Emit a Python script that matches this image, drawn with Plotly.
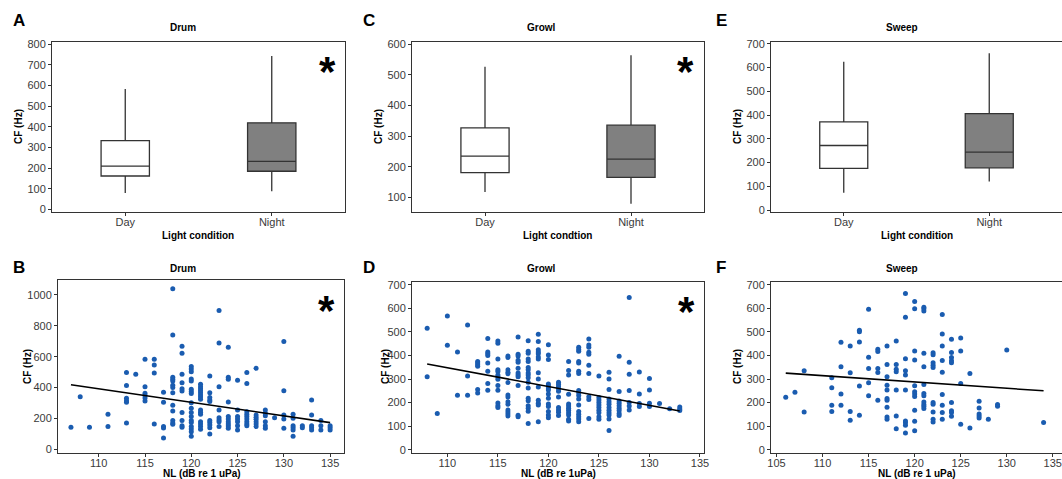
import plotly.graph_objects as go

W, H = 1062, 479

# ---------------- Box plot data (Light condition) ----------------
conditions = ["Day", "Night"]
box_fill = ["#ffffff", "#808080"]
# Drum
drum_q1 = [162, 185]; drum_med = [210, 233]; drum_q3 = [333, 419]
drum_lo = [80, 88]; drum_hi = [583, 742]
# Growl
growl_q1 = [181, 166]; growl_med = [235, 225]; growl_q3 = [327, 336]
growl_lo = [118, 80]; growl_hi = [526, 564]
# Sweep
sweep_q1 = [176, 178]; sweep_med = [272, 244]; sweep_q3 = [372, 406]
sweep_lo = [73, 120]; sweep_hi = [625, 661]

# ---------------- Scatter data (NL vs CF) ----------------
drum_points = {
    107: [143], 108: [341], 109: [143], 111: [227, 147],
    113: [497, 413, 330, 315, 305, 171], 114: [486],
    115: [583, 406, 363, 348, 333, 313], 116: [583, 546, 495, 164],
    117: [369, 305, 147, 138, 73],
    118: [1041, 741, 467, 454, 443, 415, 400, 367, 285, 248, 186, 171, 162],
    119: [667, 622, 486, 432, 393, 378, 238, 186, 153, 143],
    120: [536, 521, 503, 456, 443, 389, 374, 361, 302, 266, 238, 212, 186, 173, 147, 132, 114, 84],
    121: [421, 406, 393, 380, 367, 352, 339, 324, 255, 240, 227, 179, 164, 147, 130],
    122: [475, 367, 335, 320, 309, 186, 173, 158, 140, 99],
    123: [899, 689, 406, 255, 205, 190, 179, 147],
    124: [661, 467, 454, 307, 212, 197, 179, 164, 151, 136],
    125: [447, 255, 212, 197, 179, 153, 125],
    126: [497, 426, 244, 227, 212, 197, 179, 164, 153],
    127: [525, 223, 207, 194, 179, 164, 147],
    128: [255, 233, 218, 179, 153, 136],
    129: [205], 130: [698, 380, 223, 197, 136],
    131: [227, 201, 153, 140, 125, 84], 132: [153, 140],
    133: [320, 223, 153, 140, 125], 134: [186, 153, 125], 135: [153, 140, 125],
}
growl_points = {
    108: [516, 310], 109: [154], 110: [568, 443], 111: [415, 231],
    112: [529, 313, 231], 113: [375, 368, 361, 354, 256, 241],
    114: [472, 415, 407, 400, 368, 333, 281, 252],
    115: [462, 452, 385, 339, 332, 317, 310, 299, 273, 252, 198, 187, 179],
    116: [398, 391, 339, 329, 322, 285, 232, 224, 204, 193, 169, 160, 152, 143],
    117: [478, 405, 398, 380, 371, 346, 326, 317, 310, 273, 146, 140],
    118: [463, 418, 410, 385, 374, 349, 339, 326, 317, 306, 286, 262, 218, 208, 187, 176, 163, 111],
    119: [490, 459, 424, 415, 407, 394, 385, 327, 300, 266, 210, 197, 190, 119],
    120: [446, 402, 383, 279, 271, 262, 254, 237, 218, 194, 183, 162, 147, 136],
    121: [286, 278, 268, 259, 248, 224, 179, 169, 159, 145],
    122: [375, 336, 317, 235, 194, 186, 176, 167, 157, 147, 129, 122],
    123: [435, 425, 418, 375, 368, 333, 323, 251, 242, 230, 215, 190, 162, 150, 140, 130, 119],
    124: [470, 445, 435, 414, 405, 359, 324, 225, 213, 133],
    125: [313, 222, 211, 200, 190, 179, 167, 157, 140, 129],
    126: [329, 300, 256, 215, 204, 193, 179, 167, 157, 147, 130, 81],
    127: [397, 247, 207, 197, 187, 176, 166, 154, 145],
    128: [646, 371, 320, 251, 200, 186, 169],
    129: [330, 237, 196, 183], 130: [302, 254, 197, 183],
    131: [196], 132: [174], 133: [181, 173, 166],
}
sweep_points = {
    106: [223], 107: [244], 108: [335, 160],
    111: [305, 263, 189, 162], 112: [456, 352, 237, 189],
    113: [440, 327, 162, 125], 114: [507, 501, 457, 270, 146],
    115: [596, 392, 345, 284, 229], 116: [426, 417, 345, 328, 210],
    117: [440, 362, 310, 274, 253, 217, 210, 180, 139, 129],
    118: [462, 362, 342, 331, 253, 143, 89],
    119: [663, 562, 386, 335, 317, 253, 122, 114, 104, 71],
    120: [629, 598, 419, 381, 271, 246, 236, 226, 168, 121, 80],
    121: [605, 598, 589, 410, 352, 277, 239, 229, 203, 192, 185, 175],
    122: [412, 403, 369, 359, 349, 200, 193, 160, 129, 118],
    123: [574, 491, 440, 379, 329, 234, 189, 158, 129],
    124: [469, 413, 391, 378, 369, 200, 165, 158, 142],
    125: [474, 419, 281, 108], 126: [324, 92],
    127: [206, 177, 152, 143, 135], 128: [129], 129: [192, 185],
    130: [423], 134: [115],
}
# regression lines (NL endpoints, CF endpoints)
drum_fit_nl = [107, 135]; drum_fit_cf = [418, 173]
growl_fit_nl = [108, 133]; growl_fit_cf = [364, 164]
sweep_fit_nl = [106, 134]; sweep_fit_cf = [325, 250]

# ---------------- layout helpers ----------------
def dom_x(a, b):
    return [a / W, min(b / W, 1.0)]

def dom_y(top, bottom):
    return [1 - bottom / H, 1 - top / H]

FONT = "Liberation Sans, Arial, sans-serif"
AX = "#333333"

fig = go.Figure()

def axis_common():
    return dict(showline=True, mirror=True, linecolor=AX, linewidth=1,
                ticks="outside", ticklen=3, tickcolor=AX, tickwidth=1,
                showgrid=False, zeroline=False, automargin=False,
                tickfont=dict(family=FONT, size=11, color="#3a3a3a"))

panels = [
    ("x", "y", (52, 345), (42, 212)),
    ("x2", "y2", (412, 704), (42, 212)),
    ("x3", "y3", (771, 1064), (42, 212)),
    ("x4", "y4", (58, 344), (280, 453)),
    ("x5", "y5", (412, 704), (282, 453)),
    ("x6", "y6", (771, 1064), (282, 453)),
]

box_sets = [
    (drum_q1, drum_med, drum_q3, drum_lo, drum_hi, [-12, 810], list(range(0, 801, 100))),
    (growl_q1, growl_med, growl_q3, growl_lo, growl_hi, [53, 607], list(range(100, 601, 100))),
    (sweep_q1, sweep_med, sweep_q3, sweep_lo, sweep_hi, [-8, 708], list(range(0, 701, 100))),
]

for i, (q1, med, q3, lo, hi, yr, yt) in enumerate(box_sets):
    xa, ya = panels[i][0], panels[i][1]
    for j in range(2):
        fig.add_trace(go.Box(
            x=[j + 1], q1=[q1[j]], median=[med[j]], q3=[q3[j]],
            lowerfence=[lo[j]], upperfence=[hi[j]],
            width=0.33, whiskerwidth=0, fillcolor=box_fill[j],
            line=dict(color="#333333", width=1.3),
            boxpoints=False, hoverinfo="skip", showlegend=False,
            xaxis=xa, yaxis=ya))

scatter_sets = [
    (drum_points, drum_fit_nl, drum_fit_cf, [105.6, 136.5], list(range(110, 136, 5)), [-24, 1097], list(range(0, 1001, 200))),
    (growl_points, growl_fit_nl, growl_fit_cf, [106.5, 135.4], list(range(110, 136, 5)), [-14, 712], list(range(0, 701, 100))),
    (sweep_points, sweep_fit_nl, sweep_fit_cf, [104.4, 136.0], list(range(105, 136, 5)), [-14, 712], list(range(0, 701, 100))),
]

for i, (pts, fnl, fcf, xr, xt, yr, yt) in enumerate(scatter_sets):
    xa, ya = panels[i + 3][0], panels[i + 3][1]
    xs, ys = [], []
    for nl, cfs in pts.items():
        for cf in cfs:
            xs.append(nl)
            ys.append(cf)
    fig.add_trace(go.Scatter(x=xs, y=ys, mode="markers",
                             marker=dict(color="#1a5cb0", size=5),
                             showlegend=False, hoverinfo="skip",
                             xaxis=xa, yaxis=ya))
    fig.add_trace(go.Scatter(x=fnl, y=fcf, mode="lines",
                             line=dict(color="black", width=1.6),
                             showlegend=False, hoverinfo="skip",
                             xaxis=xa, yaxis=ya))

layout = dict(width=W, height=H, margin=dict(l=0, r=0, t=0, b=0),
              paper_bgcolor="white", plot_bgcolor="white", showlegend=False)

for i, (xa, ya, dx, dy) in enumerate(panels):
    xkey = "xaxis" if xa == "x" else "xaxis" + xa[1:]
    ykey = "yaxis" if ya == "y" else "yaxis" + ya[1:]
    xd = dict(axis_common(), domain=dom_x(*dx), anchor=ya, ticklabelstandoff=-3)
    yd = dict(axis_common(), domain=dom_y(*dy), anchor=xa)
    if i < 3:
        yr, yt = box_sets[i][5], box_sets[i][6]
        xd.update(range=[0.5, 2.5], tickvals=[1, 2], ticktext=conditions)
        yd.update(range=yr, tickvals=yt)
    else:
        _, _, _, xr, xt, yr, yt = scatter_sets[i - 3]
        xd.update(range=xr, tickvals=xt)
        yd.update(range=yr, tickvals=yt)
    layout[xkey] = xd
    layout[ykey] = yd

fig.update_layout(**layout)

def ann(text, x, y, size, bold=True, angle=0, color="black"):
    t = "<b>%s</b>" % text if bold else text
    fig.add_annotation(text=t, x=x / W, y=1 - y / H, xref="paper", yref="paper",
                       showarrow=False, xanchor="center", yanchor="middle",
                       textangle=angle,
                       font=dict(family=FONT, size=size, color=color))

# panel letters
for letter, x, y in [("A", 19, 20), ("C", 369, 20), ("E", 721, 20),
                     ("B", 19, 267), ("D", 369, 267), ("F", 721, 267)]:
    ann(letter, x, y, 17)

# titles
for t, x, y in [("Drum", 183, 28), ("Growl", 541, 28), ("Sweep", 902, 28),
                ("Drum", 183, 268), ("Growl", 541, 268), ("Sweep", 902, 268)]:
    ann(t, x, y, 10)

# y-axis titles
for x, y in [(18, 127), (378, 127), (737, 127), (27, 367), (385, 367), (737, 367)]:
    ann("CF (Hz)", x, y, 10, angle=-90)

# x-axis titles
for t, x, y in [("Light condition", 198, 235), ("Light condtion", 557, 235),
                ("Light condition", 917, 235), ("NL (dB re 1 uPa)", 202, 473),
                ("NL (dB re 1uPa)", 558, 473), ("NL (dB re 1 uPa)", 917, 473)]:
    ann(t, x, y, 10)

# significance asterisks
for x, y in [(327, 71), (685, 71), (326, 310), (686, 311)]:
    ann("*", x, y, 42)

fig.write_html("out.html", config={"displayModeBar": False},
               post_script="document.body.style.margin='0';document.body.style.overflow='hidden';")
